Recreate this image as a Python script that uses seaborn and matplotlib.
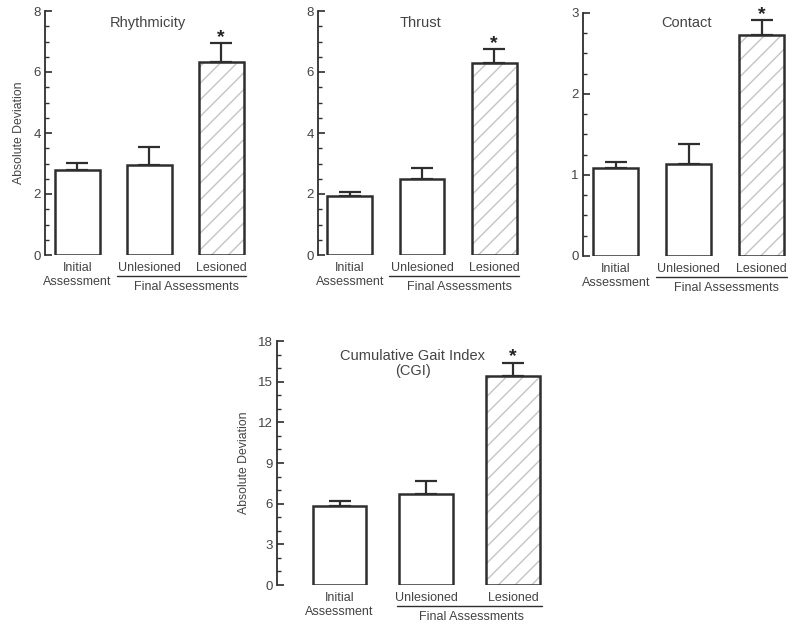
import matplotlib
matplotlib.use("Agg")
import matplotlib.pyplot as plt
import matplotlib.transforms as mtransforms
from matplotlib.patches import Rectangle
from matplotlib.ticker import MultipleLocator
import seaborn as sns
import pandas as pd

sns.set_style("ticks")
plt.rcParams['font.family'] = ['Liberation Sans', 'DejaVu Sans']

categories = ["Initial\nAssessment", "Unlesioned", "Lesioned"]
panels = ["Rhythmicity", "Thrust", "Contact", "Cumulative Gait Index\n(CGI)"]
rhythmicity_mean = [2.79, 2.95, 6.34]
rhythmicity_err = [0.22, 0.60, 0.60]
thrust_mean = [1.93, 2.48, 6.30]
thrust_err = [0.15, 0.36, 0.44]
contact_mean = [1.08, 1.14, 2.73]
contact_err = [0.08, 0.24, 0.18]
cgi_mean = [5.84, 6.70, 15.40]
cgi_err = [0.37, 0.94, 1.00]
group_label = "Final Assessments"
ylabel = "Absolute Deviation"

means = [rhythmicity_mean, thrust_mean, contact_mean, cgi_mean]
errs = [rhythmicity_err, thrust_err, contact_err, cgi_err]
ylims = [8, 8, 3, 18]
major = [2, 2, 1, 3]
minor = [0.5, 0.5, 0.25, 1]
xlims = [(-0.45, 2.4), (-0.44, 2.4), (-0.45, 2.4), (-0.72, 2.4)]
# axes boxes in pixels: left, right, top, bottom
boxes = [(45, 250, 11, 255), (318, 523, 11, 255), (583, 791, 12.7, 256), (277, 548, 341, 585)]
title_y = [0.9, 0.9, 0.905, 0.825]
show_ylabel = [True, False, False, True]

TXT = "#444444"
EDGE = "#2e2e2e"

fig = plt.figure(figsize=(8, 6.3), dpi=100)
W, H = 800, 630

for i in range(4):
    l, r, t, b = boxes[i]
    ax = fig.add_axes([l / W, 1 - b / H, (r - l) / W, (b - t) / H])
    df = pd.DataFrame({"cat": categories, "val": means[i], "err": errs[i]})
    sns.barplot(data=df, x="cat", y="val", order=categories, color="white",
                edgecolor=EDGE, linewidth=1.8, width=0.62, errorbar=None,
                ax=ax, zorder=3)
    # hatch for lesioned bar
    p = ax.patches[2]
    ax.add_patch(Rectangle((p.get_x(), p.get_y()), p.get_width(), p.get_height(),
                           fill=False, hatch="//", edgecolor="#c4c4c4", lw=0, zorder=3.5))
    p.set_zorder(4)
    p.set_facecolor("none")
    # one-sided error bars
    ax.errorbar(x=list(range(3)), y=df["val"], yerr=[[0, 0, 0], df["err"]],
                fmt="none", ecolor=EDGE, elinewidth=1.6, capsize=8, capthick=1.6, zorder=2)
    # asterisk
    ax.annotate("*", xy=(2, df["val"][2] + df["err"][2]), xytext=(0, -2),
                textcoords="offset points", ha="center", va="bottom",
                fontsize=14, color="#222222", fontweight="bold")
    ax.set_xlim(*xlims[i])
    ax.set_ylim(0, ylims[i])
    ax.yaxis.set_major_locator(MultipleLocator(major[i]))
    ax.yaxis.set_minor_locator(MultipleLocator(minor[i]))
    for s in ["top", "right", "bottom"]:
        ax.spines[s].set_visible(False)
    ax.spines["left"].set_color(EDGE)
    ax.spines["left"].set_linewidth(1.3)
    ax.tick_params(axis="y", which="major", direction="in", length=5, width=1.2,
                   color=EDGE, labelsize=9.5, labelcolor=TXT, pad=3)
    ax.tick_params(axis="y", which="minor", direction="in", length=3, width=1.0, color=EDGE)
    ax.tick_params(axis="x", length=0, labelsize=9, labelcolor=TXT, pad=5)
    ax.set_xlabel("")
    if show_ylabel[i]:
        ax.set_ylabel(ylabel, fontsize=8.8, color=TXT, labelpad=6)
    else:
        ax.set_ylabel("")
    ax.set_title(panels[i], fontsize=10.5, color=TXT, y=title_y[i], linespacing=1.1)
    # group line + label
    trans = mtransforms.blended_transform_factory(ax.transData, ax.transAxes)
    x0, x1 = (0.55, 2.35) if i < 3 else (0.66, 2.33)
    ax.plot([x0, x1], [-0.086, -0.086], color=EDGE, lw=1.0, transform=trans, clip_on=False)
    ax.text(1.52, -0.105, group_label, transform=trans, ha="center", va="top",
            fontsize=9, color=TXT)

fig.savefig("out.png", dpi=100)
